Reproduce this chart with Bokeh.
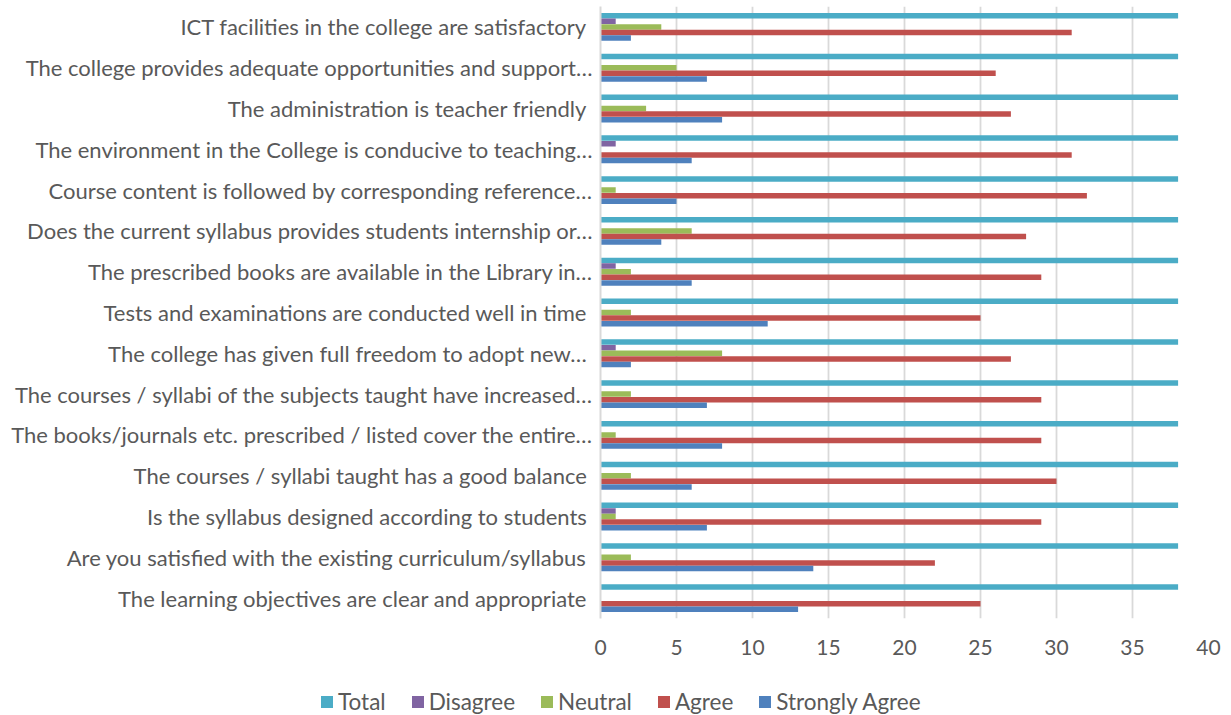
from bokeh.plotting import figure
from bokeh.layouts import column
from bokeh.models import FactorRange, Range1d, Legend, LegendItem, ColumnDataSource, FixedTicker
from bokeh.transform import dodge
from bokeh.embed import file_html
from bokeh.resources import INLINE

categories = [
    "ICT facilities in the college are satisfactory ",
    "The college provides adequate opportunities and support…",
    "The administration is teacher friendly ",
    "The environment in the College is conducive to teaching…",
    "Course content is followed by corresponding reference…",
    "Does the current syllabus provides students internship or…",
    "The prescribed books are available in the Library in…",
    "Tests and examinations are conducted well in time ",
    "The college has given  full freedom to adopt new…",
    "The courses / syllabi of the subjects taught have increased…",
    "The books/journals etc. prescribed / listed cover the entire…",
    "The courses / syllabi taught has a good balance ",
    "Is the syllabus designed according to students ",
    "Are you satisfied with the existing curriculum/syllabus ",
    "The learning objectives are clear and appropriate ",
]
total = [38, 38, 38, 38, 38, 38, 38, 38, 38, 38, 38, 38, 38, 38, 38]
disagree = [1, 0, 0, 1, 0, 0, 1, 0, 1, 0, 0, 0, 1, 0, 0]
neutral = [4, 5, 3, 0, 1, 6, 2, 2, 8, 2, 1, 2, 1, 2, 0]
agree = [31, 26, 27, 31, 32, 28, 29, 25, 27, 29, 29, 30, 29, 22, 25]
strongly_agree = [2, 7, 8, 6, 5, 4, 6, 11, 2, 7, 8, 6, 7, 14, 13]
x_ticks = [0, 5, 10, 15, 20, 25, 30, 35, 40]

series_names = ["Total", "Disagree", "Neutral", "Agree", "Strongly Agree"]
colors = ["#4BACC6", "#8064A2", "#9BBB59", "#C0504D", "#4F81BD"]
offsets = [0.275, 0.1375, 0.0, -0.1375, -0.275]

FONT = "Lato"
TXT = "#595959"

source = ColumnDataSource(dict(
    cat=categories, total=total, disagree=disagree, neutral=neutral,
    agree=agree, strongly_agree=strongly_agree,
))
cols = ["total", "disagree", "neutral", "agree", "strongly_agree"]

p = figure(
    width=1231, height=670,
    y_range=FactorRange(factors=categories[::-1], range_padding=0),
    x_range=Range1d(0, 40),
    output_backend="svg", toolbar_location=None,
    min_border_left=600, min_border_right=23, min_border_top=6, min_border_bottom=52,
)
p.outline_line_color = None
p.background_fill_color = "white"
p.border_fill_color = "white"

for name, col, color, off in zip(series_names, cols, colors, offsets):
    p.hbar(y=dodge("cat", off, range=p.y_range), right=col, left=0, height=0.135,
           source=source, fill_color=color, line_color=None)

p.ygrid.grid_line_color = None
p.xgrid.grid_line_color = "#D9D9D9"
p.xgrid.grid_line_width = 1.8

p.xaxis.ticker = FixedTicker(ticks=x_ticks)
p.xaxis.axis_line_color = None
p.xaxis.major_tick_line_color = None
p.xaxis.minor_tick_line_color = None
p.xaxis.major_tick_out = 0
p.xaxis.major_label_standoff = 21
p.xaxis.major_label_text_font = FONT
p.xaxis.major_label_text_font_size = "21px"
p.xaxis.major_label_text_color = TXT

p.yaxis.axis_line_color = "#D9D9D9"
p.yaxis.axis_line_width = 2
p.yaxis.major_tick_line_color = None
p.yaxis.minor_tick_line_color = None
p.yaxis.major_tick_out = 0
p.yaxis.major_label_standoff = 8
p.yaxis.major_label_text_font = FONT
p.yaxis.major_label_text_font_size = "22px"
p.yaxis.major_label_text_color = TXT

# legend strip below the chart (its bars lie outside its visible x range)
lp = figure(
    width=1231, height=45, x_range=Range1d(-10, -5),
    y_range=FactorRange(factors=categories[::-1]),
    x_axis_type=None, y_axis_type=None,
    output_backend="svg", toolbar_location=None,
    min_border_left=0, min_border_right=0, min_border_top=0, min_border_bottom=0,
)
lp.outline_line_color = None
lp.xgrid.visible = False
lp.ygrid.visible = False
lp.border_fill_color = "white"
lp.background_fill_color = "white"

aligned = "frame_align" in lp.properties()
if aligned:
    lp.frame_align = False
    p.frame_align = False
    loc_x = 319
else:
    lp.min_border_left = 600
    lp.min_border_right = 23
    loc_x = -281

items = []
for name, col, color, off in zip(series_names, cols, colors, offsets):
    r = lp.hbar(y=dodge("cat", off, range=lp.y_range), right=col, left=0, height=0.135,
                source=source, fill_color=color, line_color=None)
    items.append(LegendItem(label=name, renderers=[r]))

legend = Legend(
    items=items, orientation="horizontal", location=(loc_x, 0),
    glyph_width=15, glyph_height=15, label_standoff=4, spacing=24,
    padding=0, margin=0, border_line_color=None, background_fill_alpha=0,
    label_text_font=FONT, label_text_font_size="22.5px", label_text_color=TXT,
)
lp.add_layout(legend)

layout = column(p, lp, spacing=0)
open("out.html", "w").write(file_html(layout, INLINE))
